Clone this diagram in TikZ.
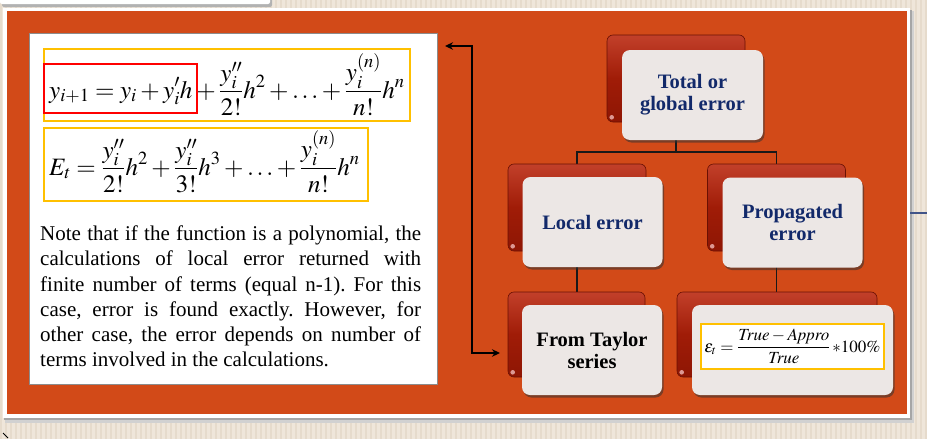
\documentclass[tikz,border=0pt]{standalone}
\usepackage{mathptmx}
\usepackage{fontspec}
\setmainfont{Liberation Serif}
\usetikzlibrary{shadows,arrows.meta}
\pgfdeclarelayer{bg}\pgfdeclarelayer{conn}\pgfsetlayers{bg,conn,main}
\definecolor{beige}{HTML}{EFE6DA}
\definecolor{beigestripe}{HTML}{E6DBCC}
\definecolor{orng}{HTML}{D24A18}
\definecolor{cardfront}{HTML}{ECE7E5}
\definecolor{cardback}{HTML}{8E1604}
\definecolor{cardbackmid}{HTML}{A01C07}
\definecolor{cardbackhi}{HTML}{C2402A}
\definecolor{navy}{HTML}{12296A}
\definecolor{ybox}{HTML}{FFC000}
\definecolor{rbox}{HTML}{FF0000}
\tikzset{
  frontcard/.style={rounded corners=8pt, fill=cardfront, minimum width=140pt, minimum height=90pt,
    inner sep=0pt, align=center, text=navy,
    font=\fontsize{20.5}{22}\selectfont\bfseries,
    drop shadow={shadow xshift=1.5pt, shadow yshift=-2.5pt, opacity=0.55, fill=black!80}},
  backcard/.style={rounded corners=6pt, top color=cardbackhi, bottom color=cardback, middle color=cardbackmid,
    draw=cardback!75!black, line width=0.6pt, minimum width=138pt, minimum height=87pt, inner sep=0pt},
  spot/.style={fill=cardfront!80!red, opacity=0.8},
  linkline/.style={line width=1.5pt, black!90},
  arrline/.style={line width=1.8pt, black, {Stealth[length=8pt,width=7.5pt]}-{Stealth[length=8pt,width=7.5pt]}},
  eqtext/.style={inner sep=0pt, font=\fontsize{25}{29}\selectfont},
  ylw/.style={draw=ybox, line width=1.6pt},
  redb/.style={draw=rbox, line width=2pt}
}
\begin{document}
\begin{tikzpicture}[x=1pt,y=-1pt]
\useasboundingbox (0,0) rectangle (927,439);
\begin{pgfonlayer}{bg}
  \fill[beige] (0,0) rectangle (927,439);
  \foreach \x in {0,5,...,925} \fill[beigestripe] (\x,0) rectangle ++(2.2,439);
  % top slide bar
  \fill[black!30, rounded corners=2pt] (2,-3) rectangle (272,7);
  \fill[white, rounded corners=2pt] (0,-5) rectangle (270,4);
  % main panel
  \fill[black!18] (5,11) rectangle (914,423);
  \fill[black!35] (4,10) rectangle (912,420);
  \fill[white] (3,8) rectangle (910,418);
  \fill[orng] (7,11) rectangle (907,414);
\end{pgfonlayer}

% text panel
\node[draw=black!45, fill=white, line width=0.8pt, minimum width=408pt, minimum height=351pt, inner sep=0pt] (panel) at (233,208.5) {};

% equation 1
\node[eqtext, anchor=base west] (eqA) at (49,98) {$\displaystyle y_{i+1} = y_i + y_i^{\prime}h$};
\node[eqtext, anchor=base west] (eqB) at (eqA.base east) {$\displaystyle {}+ \frac{y_i^{\prime\prime}}{2!}h^2 + \ldots + \frac{y_i^{(n)}}{n!}h^n$};
\coordinate (rA) at ([xshift=4pt]eqA.east);
\coordinate (yA) at ([xshift=5pt]eqB.east);
\draw[ylw] (44,49) rectangle (yA |- 0,121);
\draw[redb] (44,64) rectangle (rA |- 0,113);

% equation 2
\node[eqtext, anchor=base west] (eqC) at (49,175) {$\displaystyle E_t = \frac{y_i^{\prime\prime}}{2!}h^2 + \frac{y_i^{\prime\prime}}{3!}h^3 + \ldots + \frac{y_i^{(n)}}{n!}h^n$};
\coordinate (yC) at ([xshift=8pt]eqC.east);
\draw[ylw] (44,128) rectangle (yC |- 0,201);

% paragraph
\node[anchor=north west, inner sep=0pt, text width=381pt, align=justify,
      font=\fontsize{21}{25.3}\selectfont\frenchspacing] (para) at (40,225.5)
  {Note that if the function is a polynomial, the\linebreak
   calculations of local error returned with\linebreak
   finite number of terms (equal n-1). For this\linebreak
   case, error is found exactly. However, for\linebreak
   other case, the error depends on number of\linebreak
   terms involved in the calculations.};

% back cards
\node[backcard] (topB) at (676,78.5) {};
\node[backcard] (localB) at (577,207.5) {};
\node[backcard] (propB) at (776.5,207.5) {};
\node[backcard, minimum height=85pt, minimum width=137pt] (taylorB) at (576.5,334.5) {};
\node[backcard, minimum height=85pt, minimum width=200pt] (formB) at (777,334.5) {};
\foreach \n in {topB,localB,propB,taylorB,formB}
  \fill[spot] ([xshift=5pt,yshift=5pt]\n.south west) circle (2.3pt);

% connectors
\coordinate (bus) at (0,152);
\begin{pgfonlayer}{conn}
  \draw[linkline] (topB.center) -- (topB.center |- bus) -| (localB.center);
  \draw[linkline] (topB.center |- bus) -| (propB.center);
  \draw[linkline] (localB.center) -- (localB.center |- taylorB.center);
  \draw[linkline] (propB.center) -- (propB.center |- formB.center);
\end{pgfonlayer}

% front cards
\node[frontcard, minimum width=141pt] (topF) at (692.5,95) {Total or\\global error};
\node[frontcard] (localF) at (592.5,222) {Local error};
\node[frontcard] (propF) at (792.5,222.5) {Propagated\\error};
\node[frontcard, text=black] (taylorF) at (592,350) {From Taylor\\series};
\node[frontcard, minimum width=201pt] (formF) at (792.5,350) {};
\node[draw=ybox, fill=white, line width=1.5pt, inner xsep=2pt, inner ysep=2pt, minimum width=183pt, minimum height=45pt,
      font=\fontsize{17}{19}\selectfont] (formula) at (formF.center |- 0,346.5)
  {$\displaystyle \varepsilon_t = \frac{\mathit{True}-\mathit{Appro}}{\mathit{True}}\,{*}100\%$};

% arrow between panel and Taylor card
\coordinate (arrT) at (445,46);
\coordinate (arrM) at (472,200);
\coordinate (arrB) at (500,353);
\draw[arrline] (arrT) -| (arrM) |- (arrB);

% edge fragments
\coordinate (rfa) at (910,213);
\coordinate (rfb) at (927,213);
\draw[navy!80, line width=1.2pt] (rfa) -- (rfb);
\coordinate (bfa) at (3,433);
\coordinate (bfb) at (8,438);
\draw[black, line width=0.8pt] (bfa) -- (bfb);
\end{tikzpicture}
\end{document}
